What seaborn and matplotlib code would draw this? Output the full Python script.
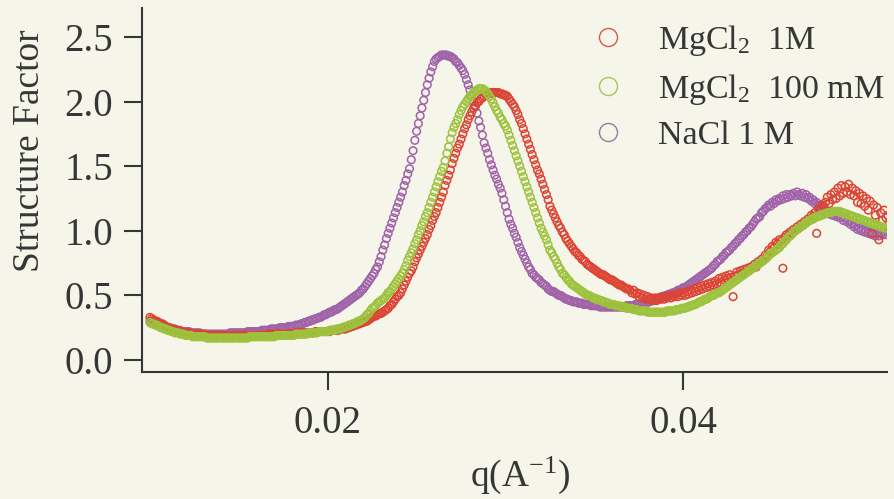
import numpy as np
import pandas as pd
import matplotlib
matplotlib.use("Agg")
import matplotlib.pyplot as plt
from matplotlib.lines import Line2D
import seaborn as sns

# Scattering vector grid (A^-1): uniform steps from q_start
q_start = 0.0100
q_step = 0.0001

# Structure factor S(q), one row per 0.001 A^-1 (row start noted on the right)
s_mgcl2_1m = [
    0.33, 0.32, 0.31, 0.30, 0.30, 0.29, 0.28, 0.28, 0.27, 0.26,  # 0.010
    0.25, 0.25, 0.24, 0.24, 0.23, 0.23, 0.22, 0.22, 0.22, 0.21,  # 0.011
    0.21, 0.21, 0.21, 0.20, 0.20, 0.20, 0.20, 0.20, 0.20, 0.20,  # 0.012
    0.20, 0.20, 0.19, 0.19, 0.19, 0.19, 0.19, 0.19, 0.19, 0.19,  # 0.013
    0.19, 0.19, 0.19, 0.19, 0.19, 0.19, 0.19, 0.19, 0.19, 0.19,  # 0.014
    0.19, 0.19, 0.19, 0.19, 0.19, 0.19, 0.19, 0.19, 0.19, 0.19,  # 0.015
    0.19, 0.19, 0.19, 0.19, 0.19, 0.19, 0.20, 0.20, 0.20, 0.20,  # 0.016
    0.20, 0.20, 0.20, 0.20, 0.20, 0.20, 0.20, 0.20, 0.20, 0.20,  # 0.017
    0.20, 0.20, 0.21, 0.21, 0.21, 0.21, 0.21, 0.21, 0.21, 0.21,  # 0.018
    0.21, 0.21, 0.21, 0.22, 0.22, 0.22, 0.22, 0.22, 0.22, 0.22,  # 0.019
    0.22, 0.22, 0.23, 0.23, 0.23, 0.23, 0.23, 0.24, 0.24, 0.24,  # 0.020
    0.24, 0.25, 0.25, 0.26, 0.26, 0.27, 0.27, 0.28, 0.28, 0.29,  # 0.021
    0.29, 0.30, 0.30, 0.31, 0.32, 0.33, 0.34, 0.34, 0.35, 0.36,  # 0.022
    0.36, 0.37, 0.38, 0.39, 0.40, 0.42, 0.43, 0.45, 0.47, 0.49,  # 0.023
    0.50, 0.52, 0.55, 0.58, 0.61, 0.64, 0.67, 0.69, 0.72, 0.76,  # 0.024
    0.79, 0.82, 0.85, 0.88, 0.91, 0.94, 0.97, 1.01, 1.04, 1.08,  # 0.025
    1.11, 1.14, 1.18, 1.22, 1.26, 1.30, 1.35, 1.39, 1.43, 1.47,  # 0.026
    1.52, 1.56, 1.60, 1.64, 1.67, 1.71, 1.75, 1.79, 1.82, 1.86,  # 0.027
    1.89, 1.92, 1.95, 1.97, 1.99, 2.00, 2.02, 2.03, 2.04, 2.05,  # 0.028
    2.06, 2.06, 2.07, 2.07, 2.07, 2.07, 2.07, 2.06, 2.06, 2.05,  # 0.029
    2.05, 2.04, 2.02, 2.00, 1.98, 1.96, 1.93, 1.90, 1.86, 1.83,  # 0.030
    1.79, 1.75, 1.71, 1.67, 1.63, 1.59, 1.55, 1.51, 1.47, 1.44,  # 0.031
    1.40, 1.36, 1.32, 1.28, 1.24, 1.19, 1.16, 1.13, 1.10, 1.07,  # 0.032
    1.04, 1.02, 0.99, 0.97, 0.94, 0.92, 0.90, 0.88, 0.86, 0.84,  # 0.033
    0.83, 0.81, 0.80, 0.78, 0.77, 0.76, 0.74, 0.73, 0.72, 0.71,  # 0.034
    0.70, 0.69, 0.68, 0.67, 0.66, 0.66, 0.65, 0.64, 0.63, 0.62,  # 0.035
    0.62, 0.61, 0.60, 0.59, 0.58, 0.58, 0.57, 0.56, 0.55, 0.55,  # 0.036
    0.54, 0.52, 0.54, 0.51, 0.52, 0.49, 0.51, 0.48, 0.50, 0.47,  # 0.037
    0.49, 0.47, 0.48, 0.46, 0.48, 0.46, 0.48, 0.47, 0.49, 0.47,  # 0.038
    0.49, 0.48, 0.50, 0.48, 0.50, 0.49, 0.51, 0.49, 0.52, 0.50,  # 0.039
    0.52, 0.50, 0.53, 0.51, 0.54, 0.52, 0.55, 0.53, 0.56, 0.54,  # 0.040
    0.57, 0.55, 0.58, 0.56, 0.59, 0.57, 0.60, 0.58, 0.61, 0.59,  # 0.041
    0.63, 0.60, 0.64, 0.62, 0.65, 0.63, 0.66, 0.64, 0.49, 0.65,  # 0.042
    0.68, 0.66, 0.69, 0.67, 0.70, 0.68, 0.71, 0.69, 0.72, 0.71,  # 0.043
    0.74, 0.72, 0.76, 0.75, 0.78, 0.77, 0.81, 0.80, 0.85, 0.84,  # 0.044
    0.88, 0.87, 0.91, 0.90, 0.93, 0.92, 0.71, 0.95, 0.97, 0.96,  # 0.045
    0.99, 0.98, 1.01, 1.00, 1.03, 1.02, 1.05, 1.04, 1.07, 1.06,  # 0.046
    1.09, 1.08, 1.12, 1.11, 1.14, 0.98, 1.17, 1.16, 1.20, 1.19,  # 0.047
    1.22, 1.26, 1.21, 1.28, 1.24, 1.30, 1.25, 1.33, 1.27, 1.35,  # 0.048
    1.29, 1.34, 1.30, 1.36, 1.28, 1.33, 1.27, 1.31, 1.22, 1.29,  # 0.049
    1.21, 1.27, 1.19, 1.25, 1.16, 1.23, 0.98, 1.20, 1.12, 1.18,  # 0.050
    0.93, 1.14, 1.08, 1.16, 1.10, 1.12,                          # 0.051
]

s_mgcl2_100mm = [
    0.29, 0.28, 0.28, 0.27, 0.27, 0.26, 0.25, 0.25, 0.24, 0.24,  # 0.010
    0.23, 0.23, 0.22, 0.22, 0.21, 0.21, 0.21, 0.20, 0.20, 0.20,  # 0.011
    0.19, 0.19, 0.19, 0.19, 0.18, 0.18, 0.18, 0.18, 0.18, 0.18,  # 0.012
    0.18, 0.18, 0.17, 0.17, 0.17, 0.17, 0.17, 0.17, 0.17, 0.17,  # 0.013
    0.17, 0.17, 0.17, 0.17, 0.17, 0.17, 0.17, 0.17, 0.17, 0.17,  # 0.014
    0.17, 0.17, 0.17, 0.17, 0.17, 0.17, 0.18, 0.18, 0.18, 0.18,  # 0.015
    0.18, 0.18, 0.18, 0.18, 0.18, 0.18, 0.18, 0.18, 0.18, 0.18,  # 0.016
    0.18, 0.19, 0.19, 0.19, 0.19, 0.19, 0.19, 0.19, 0.19, 0.19,  # 0.017
    0.19, 0.19, 0.20, 0.20, 0.20, 0.20, 0.20, 0.20, 0.20, 0.21,  # 0.018
    0.21, 0.21, 0.21, 0.21, 0.21, 0.22, 0.22, 0.22, 0.22, 0.22,  # 0.019
    0.22, 0.23, 0.23, 0.23, 0.23, 0.24, 0.24, 0.24, 0.25, 0.25,  # 0.020
    0.26, 0.26, 0.27, 0.27, 0.28, 0.28, 0.29, 0.30, 0.30, 0.31,  # 0.021
    0.32, 0.33, 0.35, 0.36, 0.38, 0.40, 0.41, 0.42, 0.44, 0.45,  # 0.022
    0.46, 0.47, 0.48, 0.50, 0.52, 0.53, 0.55, 0.57, 0.59, 0.61,  # 0.023
    0.63, 0.65, 0.67, 0.70, 0.73, 0.77, 0.80, 0.83, 0.86, 0.90,  # 0.024
    0.93, 0.97, 1.00, 1.04, 1.07, 1.11, 1.14, 1.18, 1.22, 1.26,  # 0.025
    1.30, 1.34, 1.38, 1.42, 1.46, 1.49, 1.54, 1.60, 1.65, 1.71,  # 0.026
    1.76, 1.80, 1.83, 1.86, 1.90, 1.93, 1.96, 1.98, 2.00, 2.02,  # 0.027
    2.04, 2.05, 2.07, 2.08, 2.09, 2.10, 2.10, 2.10, 2.09, 2.08,  # 0.028
    2.06, 2.04, 2.02, 1.99, 1.96, 1.93, 1.91, 1.88, 1.86, 1.83,  # 0.029
    1.81, 1.78, 1.74, 1.70, 1.66, 1.62, 1.58, 1.54, 1.50, 1.46,  # 0.030
    1.42, 1.38, 1.34, 1.30, 1.26, 1.22, 1.18, 1.14, 1.10, 1.06,  # 0.031
    1.02, 0.99, 0.96, 0.93, 0.89, 0.85, 0.83, 0.80, 0.78, 0.75,  # 0.032
    0.72, 0.70, 0.67, 0.66, 0.64, 0.62, 0.61, 0.59, 0.58, 0.57,  # 0.033
    0.56, 0.55, 0.54, 0.53, 0.52, 0.51, 0.50, 0.50, 0.49, 0.48,  # 0.034
    0.48, 0.47, 0.47, 0.46, 0.46, 0.45, 0.45, 0.44, 0.44, 0.43,  # 0.035
    0.43, 0.43, 0.42, 0.42, 0.42, 0.41, 0.41, 0.41, 0.40, 0.40,  # 0.036
    0.40, 0.40, 0.39, 0.39, 0.39, 0.38, 0.38, 0.38, 0.38, 0.38,  # 0.037
    0.37, 0.37, 0.37, 0.37, 0.37, 0.37, 0.37, 0.37, 0.37, 0.37,  # 0.038
    0.37, 0.38, 0.38, 0.38, 0.38, 0.38, 0.39, 0.39, 0.39, 0.40,  # 0.039
    0.40, 0.40, 0.41, 0.41, 0.42, 0.42, 0.43, 0.43, 0.44, 0.45,  # 0.040
    0.45, 0.46, 0.47, 0.47, 0.48, 0.49, 0.50, 0.50, 0.51, 0.52,  # 0.041
    0.52, 0.53, 0.54, 0.55, 0.56, 0.57, 0.58, 0.59, 0.60, 0.61,  # 0.042
    0.62, 0.63, 0.64, 0.65, 0.66, 0.67, 0.68, 0.69, 0.70, 0.71,  # 0.043
    0.72, 0.73, 0.74, 0.75, 0.76, 0.77, 0.78, 0.79, 0.81, 0.82,  # 0.044
    0.83, 0.84, 0.85, 0.86, 0.87, 0.89, 0.90, 0.92, 0.93, 0.95,  # 0.045
    0.96, 0.97, 0.99, 1.00, 1.01, 1.02, 1.03, 1.04, 1.05, 1.06,  # 0.046
    1.07, 1.08, 1.09, 1.09, 1.10, 1.11, 1.11, 1.12, 1.12, 1.13,  # 0.047
    1.13, 1.14, 1.14, 1.14, 1.15, 1.15, 1.15, 1.15, 1.15, 1.14,  # 0.048
    1.14, 1.13, 1.13, 1.12, 1.12, 1.11, 1.11, 1.10, 1.10, 1.09,  # 0.049
    1.09, 1.08, 1.08, 1.07, 1.07, 1.06, 1.06, 1.05, 1.05, 1.04,  # 0.050
    1.04, 1.03, 1.03, 1.02, 1.02, 1.02,                          # 0.051
]

s_nacl_1m = [
    0.30, 0.30, 0.29, 0.28, 0.28, 0.27, 0.27, 0.26, 0.26, 0.25,  # 0.010
    0.25, 0.25, 0.24, 0.24, 0.24, 0.23, 0.23, 0.23, 0.22, 0.22,  # 0.011
    0.22, 0.22, 0.22, 0.21, 0.21, 0.21, 0.21, 0.21, 0.21, 0.20,  # 0.012
    0.20, 0.20, 0.20, 0.20, 0.20, 0.20, 0.20, 0.20, 0.20, 0.20,  # 0.013
    0.20, 0.20, 0.20, 0.20, 0.20, 0.21, 0.21, 0.21, 0.21, 0.21,  # 0.014
    0.21, 0.21, 0.21, 0.21, 0.21, 0.22, 0.22, 0.22, 0.22, 0.22,  # 0.015
    0.22, 0.22, 0.22, 0.23, 0.23, 0.23, 0.23, 0.23, 0.24, 0.24,  # 0.016
    0.24, 0.24, 0.24, 0.25, 0.25, 0.25, 0.25, 0.25, 0.26, 0.26,  # 0.017
    0.26, 0.26, 0.27, 0.27, 0.27, 0.28, 0.28, 0.29, 0.29, 0.30,  # 0.018
    0.30, 0.31, 0.31, 0.32, 0.32, 0.33, 0.33, 0.34, 0.35, 0.35,  # 0.019
    0.36, 0.37, 0.37, 0.38, 0.39, 0.39, 0.40, 0.41, 0.42, 0.43,  # 0.020
    0.44, 0.45, 0.46, 0.47, 0.48, 0.49, 0.50, 0.51, 0.52, 0.54,  # 0.021
    0.55, 0.57, 0.59, 0.61, 0.63, 0.65, 0.67, 0.70, 0.72, 0.76,  # 0.022
    0.80, 0.85, 0.89, 0.94, 0.98, 1.02, 1.06, 1.10, 1.14, 1.18,  # 0.023
    1.22, 1.26, 1.30, 1.35, 1.39, 1.44, 1.48, 1.55, 1.62, 1.70,  # 0.024
    1.77, 1.83, 1.89, 1.95, 2.01, 2.07, 2.13, 2.18, 2.23, 2.27,  # 0.025
    2.31, 2.33, 2.34, 2.35, 2.36, 2.36, 2.36, 2.36, 2.35, 2.35,  # 0.026
    2.34, 2.33, 2.31, 2.30, 2.28, 2.26, 2.24, 2.21, 2.17, 2.13,  # 0.027
    2.09, 2.05, 2.00, 1.96, 1.91, 1.85, 1.80, 1.74, 1.68, 1.64,  # 0.028
    1.60, 1.55, 1.51, 1.47, 1.43, 1.40, 1.36, 1.33, 1.29, 1.24,  # 0.029
    1.19, 1.14, 1.09, 1.05, 1.02, 0.98, 0.95, 0.91, 0.87, 0.84,  # 0.030
    0.81, 0.78, 0.75, 0.72, 0.70, 0.67, 0.66, 0.64, 0.63, 0.62,  # 0.031
    0.60, 0.59, 0.58, 0.57, 0.55, 0.54, 0.53, 0.53, 0.52, 0.51,  # 0.032
    0.50, 0.50, 0.49, 0.48, 0.47, 0.47, 0.46, 0.46, 0.45, 0.45,  # 0.033
    0.45, 0.44, 0.44, 0.44, 0.43, 0.43, 0.43, 0.43, 0.42, 0.42,  # 0.034
    0.42, 0.42, 0.42, 0.41, 0.41, 0.41, 0.41, 0.41, 0.41, 0.41,  # 0.035
    0.41, 0.41, 0.41, 0.41, 0.41, 0.41, 0.41, 0.41, 0.42, 0.42,  # 0.036
    0.42, 0.42, 0.42, 0.43, 0.43, 0.43, 0.43, 0.44, 0.44, 0.44,  # 0.037
    0.45, 0.45, 0.46, 0.46, 0.47, 0.47, 0.48, 0.48, 0.49, 0.49,  # 0.038
    0.50, 0.50, 0.51, 0.51, 0.52, 0.52, 0.53, 0.54, 0.54, 0.55,  # 0.039
    0.56, 0.56, 0.57, 0.58, 0.59, 0.60, 0.61, 0.62, 0.63, 0.64,  # 0.040
    0.65, 0.66, 0.67, 0.68, 0.69, 0.70, 0.71, 0.73, 0.74, 0.76,  # 0.041
    0.77, 0.78, 0.80, 0.81, 0.83, 0.84, 0.85, 0.87, 0.88, 0.90,  # 0.042
    0.91, 0.93, 0.94, 0.96, 0.97, 0.99, 1.00, 1.02, 1.03, 1.05,  # 0.043
    1.07, 1.09, 1.10, 1.11, 1.14, 1.15, 1.17, 1.18, 1.20, 1.19,  # 0.044
    1.22, 1.21, 1.24, 1.23, 1.25, 1.24, 1.27, 1.25, 1.28, 1.26,  # 0.045
    1.28, 1.27, 1.29, 1.27, 1.30, 1.28, 1.27, 1.29, 1.26, 1.28,  # 0.046
    1.25, 1.26, 1.23, 1.24, 1.21, 1.22, 1.19, 1.20, 1.17, 1.18,  # 0.047
    1.14, 1.15, 1.13, 1.14, 1.12, 1.13, 1.11, 1.12, 1.10, 1.11,  # 0.048
    1.08, 1.10, 1.07, 1.08, 1.05, 1.06, 1.03, 1.04, 1.01, 1.02,  # 0.049
    1.00, 1.01, 0.99, 1.00, 0.98, 0.99, 0.97, 0.98, 0.96, 0.98,  # 0.050
    0.96, 0.98, 0.97, 0.99, 0.97, 0.99,                          # 0.051
]

series_labels = ["MgCl$_2$  1M", "MgCl$_2$  100 mM", "NaCl 1 M"]
series_values = [s_mgcl2_1m, s_mgcl2_100mm, s_nacl_1m]
series_colors = ["#dc4434", "#9dc23c", "#a062a8"]
legend_colors = ["#d8584c", "#a9c460", "#9c7a9e"]
draw_order = [2, 0, 1]          # NaCl underneath, 100 mM on top

x_ticks = [0.02, 0.04]
x_tick_labels = ["0.02", "0.04"]
y_ticks = [0.0, 0.5, 1.0, 1.5, 2.0, 2.5]
y_tick_labels = ["0.0", "0.5", "1.0", "1.5", "2.0", "2.5"]

frames = []
for lab, vals in zip(series_labels, series_values):
    vals = np.asarray(vals, dtype=float)
    q = q_start + q_step * np.arange(len(vals))
    frames.append(pd.DataFrame({"q": q, "S": vals, "sample": lab}))
data = pd.concat(frames, ignore_index=True)

sns.set_style("ticks")
paper = "#f5f5ea"
ink = "#363636"
plt.rcParams["font.family"] = ["Liberation Serif", "DejaVu Serif"]
plt.rcParams["mathtext.fontset"] = "custom"
plt.rcParams["mathtext.rm"] = "Liberation Serif"
plt.rcParams["mathtext.it"] = "Liberation Serif:italic"
plt.rcParams["mathtext.default"] = "regular"

fig = plt.figure(figsize=(8.94, 4.99), dpi=100, facecolor=paper)
ax = fig.add_axes([142 / 894, 127 / 499, 745 / 894, 364 / 499])
ax.set_facecolor(paper)

for i in draw_order:
    sub = data[data["sample"] == series_labels[i]]
    sns.scatterplot(data=sub, x="q", y="S", ax=ax, marker="o", s=30,
                    facecolors="none", edgecolor=series_colors[i],
                    color=series_colors[i], linewidth=1.1, legend=False)

ax.set_xlim(0.009555, 0.051457)
ax.set_ylim(-0.093, 2.724)
ax.set_xticks(x_ticks)
ax.set_xticklabels(x_tick_labels)
ax.set_yticks(y_ticks)
ax.set_yticklabels(y_tick_labels)
ax.minorticks_off()

for side in ("top", "right"):
    ax.spines[side].set_visible(False)
for side in ("left", "bottom"):
    ax.spines[side].set_linewidth(1.5)
    ax.spines[side].set_color(ink)
ax.tick_params(direction="out", length=13, width=1.5, color=ink,
               labelcolor=ink, labelsize=28)
ax.tick_params(axis="y", pad=8)
ax.tick_params(axis="x", pad=11)

ax.set_ylabel("Structure Factor", fontsize=27, color=ink)
ax.yaxis.set_label_coords(-0.127, 0.607)
ax.set_xlabel("q(A$^{-1}$)", fontsize=27, color=ink)
ax.xaxis.set_label_coords(0.507, -0.228)

handles = [Line2D([], [], ls="", marker="o", markersize=13, markerfacecolor="none",
                  markeredgecolor=c, markeredgewidth=1.0) for c in legend_colors]
leg = ax.legend(handles, series_labels, loc="upper left", bbox_to_anchor=(0.601, 0.958),
                frameon=False, fontsize=24.5, handlelength=1.05, handletextpad=0.95,
                labelspacing=0.4, borderaxespad=0, borderpad=0)
for t in leg.get_texts():
    t.set_color(ink)

fig.savefig("out.png", dpi=100, facecolor=paper)
